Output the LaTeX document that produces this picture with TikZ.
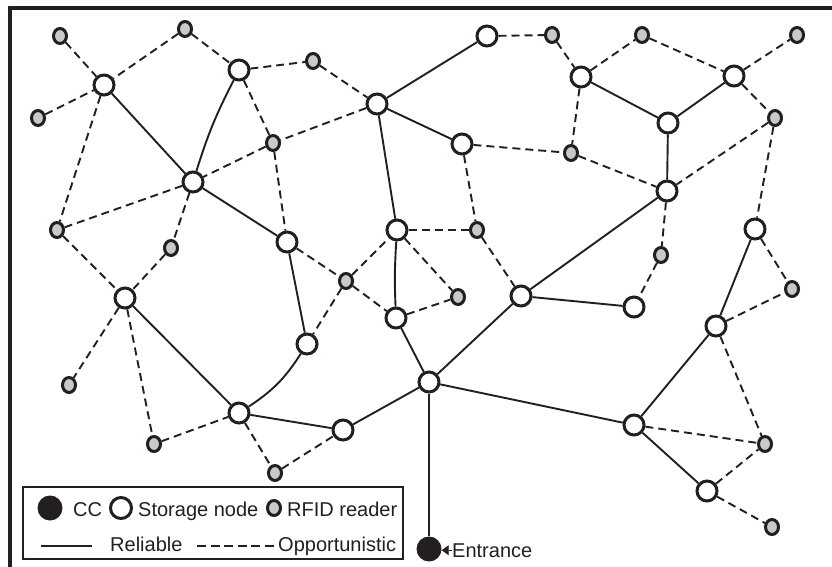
\documentclass[tikz,border=0pt]{standalone}
\usepackage{fontspec}
\setmainfont{Liberation Sans}
\usetikzlibrary{shapes.geometric,arrows.meta}
\definecolor{ink}{RGB}{35,31,32}
\definecolor{rfidgray}{RGB}{200,201,203}
\begin{document}
\begin{tikzpicture}[x=1pt,y=-1pt,
  storage/.style={circle,draw=ink,fill=white,line width=3pt,minimum size=20pt,inner sep=0pt},
  rfid/.style={ellipse,draw=ink,fill=rfidgray,line width=3pt,minimum width=13pt,minimum height=15pt,inner sep=0pt},
  ccnode/.style={circle,fill=ink,minimum size=25pt,inner sep=0pt},
  rel/.style={draw=ink,line width=1.9pt},
  thinrel/.style={draw=ink,line width=1.2pt},
  opp/.style={draw=ink,line width=1.9pt,dash pattern=on 8pt off 5pt},
  lbl/.style={font=\fontsize{20}{23}\selectfont,inner sep=0pt,anchor=base west,text=ink}]
\useasboundingbox (0,0) rectangle (832,567);
\clip (0,0) rectangle (832,567);
\fill[white] (0,0) rectangle (832,567);
\draw[ink,line width=3.2pt] (10,8) rectangle (900,700);
% storage nodes
\foreach \n/\x/\y in {S1/104/85,S2/239/70,S3/377/104,S4/487/36,S5/581/77,S6/734/76,S7/668/123,S8/462/144,S9/193/182,S10/667/191,S11/287/242,S12/397/230,S13/755/229,S14/125/298,S15/521/296,S16/634/307,S17/396/318,S18/716/326,S19/307/344,S20/429/382,S21/239/413,S22/343/430,S23/634/425,S24/707/491}
  \node[storage] (\n) at (\x,\y) {};
% RFID readers
\foreach \n/\x/\y in {R1/60/36,R2/185/29,R3/38/118,R4/313/61,R5/273/143,R6/552/35,R7/642/35,R8/797/35,R9/571/153,R10/775/118,R11/57/230,R12/171/248,R13/477/230,R14/661/255,R15/346/281,R16/458/297,R17/792/289,R18/69/385,R19/154/444,R20/275/473,R21/765/444,R22/772/527}
  \node[rfid] (\n) at (\x,\y) {};
\node[ccnode] (CC) at (429,549) {};
% reliable links
\foreach \a/\b in {S1/S9,S9/S11,S3/S4,S3/S8,S3/S12,S5/S7,S6/S7,S7/S10,S10/S15,S11/S19,S17/S20,S20/S15,S15/S16,S20/S22,S20/S23,S14/S21,S21/S22,S13/S18,S18/S23,S23/S24}
  \draw[rel] (\a) -- (\b);
\draw[rel] (S2) to[bend right=5] (S9);
\draw[rel] (S12) to[bend right=3] (S17);
\draw[rel] (S21) to[bend right=12] (S19);
\draw[thinrel] (S20) -- (CC);
% opportunistic links
\foreach \a/\b in {R1/S1,R2/S1,R3/S1,R2/S2,S2/R4,R4/S3,S2/R5,S3/R5,R5/S9,S1/R11,R11/S9,S9/R12,R5/S11,R11/S14,R12/S14,S4/R6,R6/S5,S5/R7,R7/S6,S6/R8,S6/R10,S5/R9,S8/R9,R9/S10,R10/S10,R10/S13,S10/R14,R14/S16,S13/R17,S8/R13,S12/R13,R13/S15,S11/R15,R15/S12,R15/S17,R15/S19,S12/R16,S17/R16,S14/R18,S14/R19,R19/S21,S21/R20,R20/S22,S18/R17,S18/R21,S23/R21,S24/R21,S24/R22}
  \draw[opp] (\a) -- (\b);
% entrance label
\node[lbl] (ent) at (452,557) {Entrance};
\draw[ink,line width=0.6pt,-{Triangle[length=7pt,width=10pt]}] (ent.west) -- (ent.west -| CC.east);
% legend
\node[draw=ink,fill=white,line width=2.5pt,minimum width=380pt,minimum height=72pt,inner sep=0pt] (legend) at (213,523) {};
\node[ccnode] (lcc) at (50,508) {};
\node[lbl] (tcc) at (73,516) {CC};
\node[storage,minimum size=21pt] (lsto) at (121,508) {};
\node[lbl] (tsto) at (138,516) {Storage node};
\node[rfid] (lrf) at (274,508) {};
\node[lbl] (trf) at (287,516) {RFID reader};
\coordinate (ra) at (41,546);
\coordinate (rb) at (92,546);
\draw[rel,line width=1.5pt] (ra) -- (rb);
\node[lbl] (trel) at (110,551) {Reliable};
\coordinate (oa) at (197,546);
\coordinate (ob) at (277,546);
\draw[ink,line width=1.8pt,dash pattern=on 9pt off 4.5pt] (oa) -- (ob);
\node[lbl] (topp) at (278,551) {Opportunistic};
\end{tikzpicture}
\end{document}
